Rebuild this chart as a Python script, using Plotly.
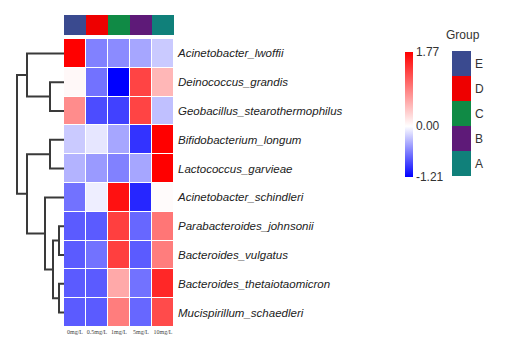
import plotly.graph_objects as go

W, H = 507, 343

species = ["Acinetobacter_lwoffii", "Deinococcus_grandis", "Geobacillus_stearothermophilus",
           "Bifidobacterium_longum", "Lactococcus_garvieae", "Acinetobacter_schindleri",
           "Parabacteroides_johnsonii", "Bacteroides_vulgatus", "Bacteroides_thetaiotaomicron",
           "Mucispirillum_schaedleri"]
doses = ["0mg/L", "0.5mg/L", "1mg/L", "5mg/L", "10mg/L"]
col_groups = ["E", "D", "C", "B", "A"]
legend_groups = ["E", "D", "C", "B", "A"]
group_colors = {"E": "#3A4A8F", "D": "#EE0000", "C": "#108A45", "B": "#5E1A78", "A": "#10807A"}

values = [
    [1.77, -0.60, -0.55, -0.42, -0.25],
    [0.05, -0.67, -1.21, 1.30, 0.50],
    [0.80, -0.85, -0.90, 1.30, -0.30],
    [-0.25, -0.12, -0.42, -0.97, 1.77],
    [-0.36, -0.48, -0.60, -0.42, 1.77],
    [-0.67, -0.08, 1.65, -1.03, 0.03],
    [-0.78, -0.78, 1.33, -0.72, 0.95],
    [-0.78, -0.67, 1.33, -0.78, 0.90],
    [-0.78, -0.78, 0.60, -0.67, 1.50],
    [-0.78, -0.78, 0.90, -0.72, 1.25],
]
zmin, zmax = -1.21, 1.77

# row dendrogram merges: (left node, right node, height); leaves are 0..9
merges = [
    (1, 2, 14), (0, 10, 37), (3, 4, 14), (6, 7, 5), (8, 9, 5),
    (13, 14, 11), (5, 15, 19), (12, 16, 37), (11, 17, 47),
]

def px_x(p):
    return p / W

def px_y(p):
    return 1 - p / H

hm_left, hm_right, hm_top, hm_bot = 64, 174, 39, 327

fig = go.Figure()

# main heatmap
wpos = (0 - zmin) / (zmax - zmin)
fig.add_trace(go.Heatmap(
    z=values, x=list(range(len(doses))), y=list(range(len(species))),
    colorscale=[[0, "#0000FF"], [wpos, "#FFFFFF"], [1, "#FF0000"]],
    zmin=zmin, zmax=zmax, xgap=1, ygap=1,
    colorbar=dict(x=px_x(405), xanchor="left", y=px_y(177), yanchor="bottom",
                  len=125 / H, lenmode="fraction", thickness=8, outlinewidth=0,
                  xpad=0, ypad=0,
                  tickvals=[zmin, 0, zmax], ticktext=["-1.21", "0.00", "1.77"],
                  ticks="", tickfont=dict(family="Liberation Sans", size=12, color="#333")),
    xaxis="x", yaxis="y", hoverinfo="skip",
))

# column group bar
n = len(legend_groups)
order = {g: i for i, g in enumerate(legend_groups)}
cs = []
for i, g in enumerate(legend_groups):
    a = max(0, (i - 0.5) / (n - 1)); b = min(1, (i + 0.5) / (n - 1))
    cs += [[a, group_colors[g]], [b, group_colors[g]]]
fig.add_trace(go.Heatmap(
    z=[[order[g] for g in col_groups]], x=list(range(len(doses))), y=[0],
    colorscale=cs, zmin=0, zmax=n - 1, showscale=False,
    xaxis="x2", yaxis="y2", hoverinfo="skip",
))

# group legend
fig.add_trace(go.Heatmap(
    z=[[order[g]] for g in legend_groups], x=[0], y=list(range(n)),
    colorscale=cs, zmin=0, zmax=n - 1, showscale=False,
    xaxis="x4", yaxis="y4", hoverinfo="skip",
))

# dendrogram
nleaf = len(species)
ypos = {i: float(i) for i in range(nleaf)}
hgt = {i: 0.0 for i in range(nleaf)}
xs, ys = [], []
for k, (a, b, h) in enumerate(merges):
    node = nleaf + k
    xs += [hgt[a], h, h, hgt[b], None]
    ys += [ypos[a], ypos[a], ypos[b], ypos[b], None]
    ypos[node] = (ypos[a] + ypos[b]) / 2
    hgt[node] = h
fig.add_trace(go.Scatter(x=xs, y=ys, mode="lines", line=dict(color="#3a3a3a", width=2),
                         xaxis="x3", yaxis="y", hoverinfo="skip", showlegend=False))

lab_font = dict(family="Liberation Sans", size=11.5, color="#222", style="italic")
fig.update_layout(
    width=W, height=H, margin=dict(l=0, r=0, t=0, b=0),
    paper_bgcolor="white", plot_bgcolor="white", showlegend=False,
    xaxis=dict(domain=[px_x(hm_left), px_x(hm_right)], range=[-0.5, 4.5],
               tickvals=list(range(len(doses))), ticktext=doses, ticks="",
               tickfont=dict(family="Liberation Serif", size=6, color="#444"),
               showgrid=False, zeroline=False, showline=False, anchor="y"),
    yaxis=dict(domain=[px_y(hm_bot), px_y(hm_top)], range=[len(species) - 0.5, -0.5],
               tickvals=list(range(len(species))), ticktext=species, side="right",
               ticks="", ticklabelstandoff=3, tickfont=lab_font,
               showgrid=False, zeroline=False, showline=False, anchor="x"),
    xaxis2=dict(domain=[px_x(hm_left), px_x(hm_right)], range=[-0.5, 4.5], visible=False, anchor="y2"),
    yaxis2=dict(domain=[px_y(35), px_y(15)], range=[-0.5, 0.5], visible=False, anchor="x2"),
    xaxis3=dict(domain=[0, px_x(hm_left)], range=[hm_left, 0], visible=False, anchor="y"),
    xaxis4=dict(domain=[px_x(452), px_x(471)], range=[-0.5, 0.5], visible=False, anchor="y4"),
    yaxis4=dict(domain=[px_y(176), px_y(51)], range=[n - 0.5, -0.5],
                tickvals=list(range(n)), ticktext=legend_groups, side="right", ticks="",
                ticklabelstandoff=3,
                tickfont=dict(family="Liberation Sans", size=12, color="#333"),
                showgrid=False, zeroline=False, showline=False, anchor="x4"),
    annotations=[dict(text="Group", x=px_x(463), y=px_y(35), xref="paper", yref="paper",
                      xanchor="center", yanchor="middle",
                      showarrow=False, font=dict(family="Liberation Sans", size=12, color="#333"))],
)

fig.write_html("out.html", config={"displayModeBar": False},
               post_script="document.body.style.margin='0';document.body.style.overflow='hidden';")
